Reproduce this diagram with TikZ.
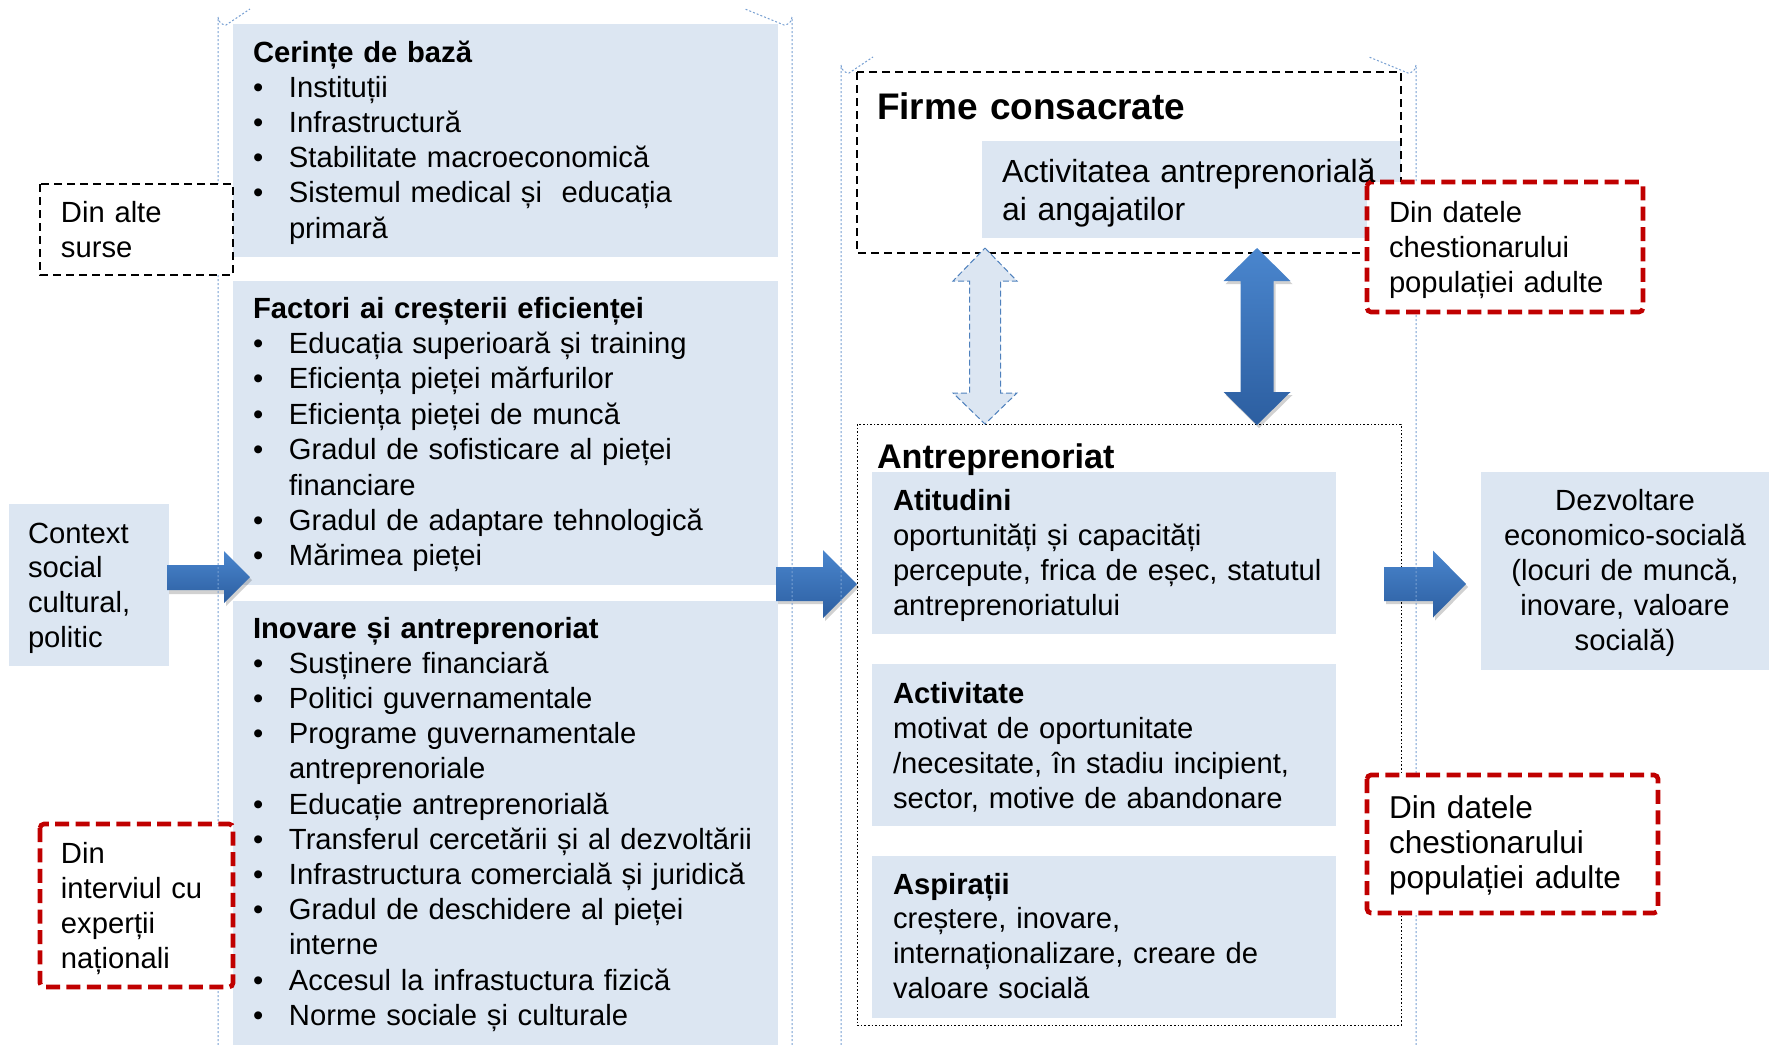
\documentclass[tikz,border=0pt]{standalone}
\usepackage{fontspec}
\setmainfont{Liberation Sans}
\definecolor{boxblue}{RGB}{220,230,242}
\definecolor{lineblue}{RGB}{79,129,189}
\definecolor{contblue}{RGB}{120,160,210}
\definecolor{redd}{RGB}{192,0,0}
\definecolor{arrtop}{RGB}{74,134,206}
\definecolor{arrbot}{RGB}{44,94,160}
\newcommand\bl{\makebox[18pt][l]{\textbullet}}
\newcommand\ind{\hspace*{18pt}}
\tikzset{
  bluebox/.style={fill=boxblue},
  txt/.style={anchor=base west, inner sep=0pt, outer sep=0pt, align=left, text width=400pt,
    font=\fontsize{14.6pt}{17.6pt}\selectfont},
  ctxt/.style={anchor=base, inner sep=0pt, outer sep=0pt, align=center, text width=150pt,
    font=\fontsize{14.6pt}{17.6pt}\selectfont},
  cont/.style={draw=contblue, line width=0.5pt, dash pattern=on 1pt off 1pt},
  blackdash/.style={draw=black, line width=0.75pt, dash pattern=on 4pt off 2.5pt},
  reddash/.style={draw=redd, fill=white, line width=2.3pt, dash pattern=on 7pt off 3.2pt, rounded corners=2pt},
  dotbox/.style={draw=black, line width=0.5pt, dash pattern=on 0.8pt off 1pt},
  arrshade/.style={top color=arrtop, bottom color=arrbot},
  arrshadow/.style={fill=black, opacity=0.18},
}
\begin{document}
\begin{tikzpicture}[x=0.5pt,y=-0.5pt]
\useasboundingbox (0,0) rectangle (1769,1045);

% ---- blue boxes ----
\fill[bluebox] (233,24) rectangle (778,257);
\fill[bluebox] (233,281) rectangle (778,585);
\fill[bluebox] (233,601) rectangle (778,1045);
\fill[bluebox] (9,504) rectangle (169,666);
\fill[bluebox] (1481,472) rectangle (1769,670);

% Firme consacrate
\fill[bluebox] (982,141) rectangle (1401,238);
\draw[blackdash] (857,72) rectangle (1401,253);

% Antreprenoriat
\draw[dotbox] (857,424) rectangle (1401,1025);
\fill[bluebox] (872,472) rectangle (1336,634);
\fill[bluebox] (872,664) rectangle (1336,826);
\fill[bluebox] (872,856) rectangle (1336,1018);

% ---- block arrows ----
% left arrow
\fill[arrshadow] (169,569) -- (226,569) -- (226,554) -- (252,580) -- (226,606) -- (226,594) -- (169,594) -- cycle;
\shade[arrshade] (167,565) -- (224,565) -- (224,551) -- (250,577) -- (224,603) -- (224,590) -- (167,590) -- cycle;
% middle arrow
\fill[arrshadow] (778,570) -- (825,570) -- (825,553) -- (859,587) -- (825,621) -- (825,604) -- (778,604) -- cycle;
\shade[arrshade] (776,567) -- (823,567) -- (823,550) -- (857,584) -- (823,618) -- (823,601) -- (776,601) -- cycle;
% right arrow
\fill[arrshadow] (1386,570) -- (1435,570) -- (1435,553.5) -- (1468,587) -- (1435,620.5) -- (1435,604) -- (1386,604) -- cycle;
\shade[arrshade] (1384,567) -- (1433,567) -- (1433,550.5) -- (1466,584) -- (1433,617.5) -- (1433,601) -- (1384,601) -- cycle;
% light double arrow
\filldraw[fill=boxblue, draw=lineblue, line width=0.5pt, dash pattern=on 3pt off 1.5pt]
  (985,248) -- (1017,281) -- (1000.5,281) -- (1000.5,393) -- (1017,393) -- (985,424)
  -- (953,393) -- (969.5,393) -- (969.5,281) -- (953,281) -- cycle;
% dark double arrow
\fill[arrshadow] (1259,251) -- (1292.5,284) -- (1275.5,284) -- (1275.5,395) -- (1292.5,395) -- (1259,428)
  -- (1225.5,395) -- (1242.5,395) -- (1242.5,284) -- (1225.5,284) -- cycle;
\shade[top color=arrtop, bottom color=arrbot]
  (1257,248) -- (1290.5,281) -- (1273.5,281) -- (1273.5,392) -- (1290.5,392) -- (1257,425)
  -- (1223.5,392) -- (1240.5,392) -- (1240.5,281) -- (1223.5,281) -- cycle;

% ---- containers (blue dotted brackets) ----
\draw[cont] (218,1045) -- (218,17) arc[start angle=180, end angle=90, radius=8] -- (250,9);
\draw[cont] (792,1045) -- (792,17) arc[start angle=0, end angle=90, radius=8] -- (745,9);
\draw[cont] (841,1045) -- (841,65) arc[start angle=180, end angle=90, radius=8] -- (873,57);
\draw[cont] (1416,1045) -- (1416,65) arc[start angle=0, end angle=90, radius=8] -- (1369,57);

% ---- white source boxes ----
\filldraw[fill=white, blackdash] (40,184) rectangle (233,275);
\draw[reddash] (40,824) rectangle (233,987);
\draw[reddash] (1367,182) rectangle (1643,312);
\draw[reddash] (1367,775) rectangle (1658,913);

% ---- texts ----
\node[txt] (cerinte) at (253,62) {\textbf{Cerințe de bază}\\
\bl Instituții\\
\bl Infrastructură\\
\bl Stabilitate macroeconomică\\
\bl Sistemul medical și~ educația\\
\ind primară};

\node[txt, font=\fontsize{14.6pt}{17.7pt}\selectfont] (factori) at (253,318) {\textbf{Factori ai creșterii eficienței}\\
\bl Educația superioară și training\\
\bl Eficiența pieței mărfurilor\\
\bl Eficiența pieței de muncă\\
\bl Gradul de sofisticare al pieței\\
\ind financiare\\
\bl Gradul de adaptare tehnologică\\
\bl Mărimea pieței};

\node[txt] (inovare) at (253,638) {\textbf{Inovare și antreprenoriat}\\
\bl Susținere financiară\\
\bl Politici guvernamentale\\
\bl Programe guvernamentale\\
\ind antreprenoriale\\
\bl Educație antreprenorială\\
\bl Transferul cercetării și al dezvoltării\\
\bl Infrastructura comercială și juridică\\
\bl Gradul de deschidere al pieței\\
\ind interne\\
\bl Accesul la infrastuctura fizică\\
\bl Norme sociale și culturale};

\node[txt] (alte) at (61,222) {Din alte\\surse};
\node[txt, font=\fontsize{14.6pt}{17.4pt}\selectfont] (context) at (28,543) {Context\\social\\cultural,\\politic};
\node[txt] (interviu) at (61,863) {Din\\interviul cu\\experții\\naționali};

\node[txt, font=\bfseries\fontsize{18.5pt}{22pt}\selectfont] (firme) at (877,119) {Firme consacrate};
\node[txt, font=\fontsize{16pt}{19pt}\selectfont] (activang) at (1002,182) {Activitatea antreprenorială\\ai angajatilor};

\node[txt, font=\fontsize{14.6pt}{17.5pt}\selectfont] (datesus) at (1389,222) {Din datele\\chestionarului\\populației adulte};
\node[txt, font=\fontsize{15.8pt}{17.5pt}\selectfont] (datejos) at (1389,818) {Din datele\\chestionarului\\populației adulte};

\node[txt, font=\bfseries\fontsize{17.1pt}{20pt}\selectfont] (antrep) at (877,468) {Antreprenoriat};
\node[txt, font=\fontsize{14.6pt}{17.5pt}\selectfont] (atit) at (893,510) {\textbf{Atitudini}\\oportunități și capacități\\percepute, frica de eșec, statutul\\antreprenoriatului};
\node[txt, font=\fontsize{14.6pt}{17.6pt}\selectfont] (activ) at (893,703) {\textbf{Activitate}\\motivat de oportunitate\\/necesitate, în stadiu incipient,\\sector, motive de abandonare};
\node[txt, font=\fontsize{14.6pt}{17.4pt}\selectfont] (aspir) at (893,894) {\textbf{Aspirații}\\creștere, inovare,\\internaționalizare, creare de\\valoare socială};

\node[ctxt] (dezv) at (1625,510) {Dezvoltare\\economico-socială\\(locuri de muncă,\\inovare, valoare\\socială)};
\end{tikzpicture}
\end{document}
